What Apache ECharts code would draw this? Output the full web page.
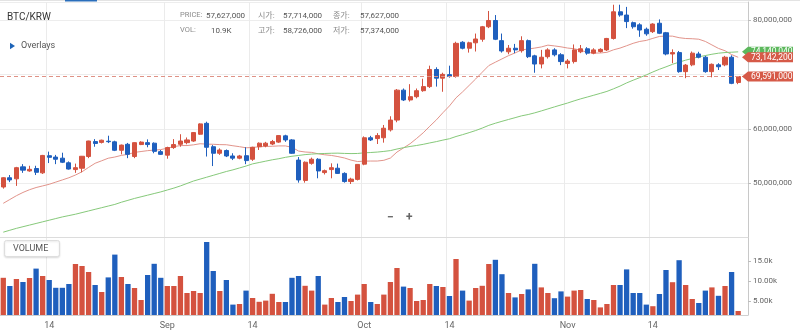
<!DOCTYPE html>
<html>
<head>
<meta charset="utf-8">
<script src="https://cdn.jsdelivr.net/npm/echarts@6/dist/echarts.min.js"></script>
<style>
  html, body { margin: 0; padding: 0; background: #fff; }
  #chart { width: 800px; height: 335px; }
</style>
</head>
<body>
<div id="chart"></div>
<script>
// ---- calendar (one trailing empty day leaves room before the price axis) ----
const firstDay = '2021-08-07';
const dayCount = 114;
const monthNames = ['Jan','Feb','Mar','Apr','May','Jun','Jul','Aug','Sep','Oct','Nov','Dec'];

// ---- daily candles, prices in millions of KRW ----
const openM = [49.3,51.0,50.8,53.0,52.25,52.7,51.9,55.05,54.8,54.6,
  53.75,52.5,52.75,54.9,57.65,57.5,57.714,57.6,56.05,57.15,
  54.9,57.1,57.45,57.35,55.8,55.15,56.55,57.15,57.45,57.75,
  59.0,61.0,56.7,55.5,56.0,55.0,54.6,55.05,54.4,56.7,
  56.85,57.2,57.55,58.7,57.95,54.25,50.5,53.65,54.4,51.95,
  52.5,52.75,51.8,50.3,50.7,53.5,58.35,58.2,58.35,59.8,
  61.6,67.1,65.3,65.9,67.0,67.75,70.9,69.3,69.95,69.6,
  75.9,74.8,75.8,76.45,78.75,79.9,76.2,74.15,74.8,74.35,
  76.2,73.4,71.9,73.25,74.5,73.6,72.0,72.35,74.15,74.7,
  73.9,74.2,74.5,76.6,81.5,80.9,79.5,79.1,78.3,77.85,
  79.4,77.65,73.75,74.0,70.5,71.75,73.75,73.15,70.5,71.75,
  71.75,73.15,68.5];
const highM = [51.1,51.5,53.0,53.5,53.2,53.2,55.2,55.8,55.2,55.6,
  54.0,53.6,55.0,57.8,58.1,58.0,58.726,57.8,57.1,57.4,
  57.5,57.7,58.05,57.5,56.1,56.7,58.1,59.0,58.4,59.4,
  61.0,61.3,57.0,56.4,56.2,55.5,55.2,56.6,56.7,57.5,
  57.6,57.95,58.8,58.9,58.1,54.8,54.0,54.7,54.6,52.5,
  53.65,53.6,52.0,51.0,53.5,58.6,58.7,59.2,60.7,62.3,
  67.3,67.4,68.2,67.4,69.2,71.6,71.3,70.3,71.6,76.0,
  76.1,76.0,77.5,78.9,81.65,80.9,77.5,75.4,75.6,77.0,
  76.4,73.6,74.5,74.8,74.8,73.9,72.8,75.5,75.4,75.0,
  74.8,74.8,76.7,82.8,82.8,82.4,79.7,79.4,78.6,79.4,
  80.1,77.8,74.6,74.3,71.9,74.2,74.15,73.4,72.0,72.05,
  73.4,73.5,69.7];
const lowM = [49.0,50.2,49.5,51.9,52.1,51.5,51.7,53.7,53.5,53.7,
  52.5,51.9,52.0,54.6,56.7,57.3,57.374,55.9,55.3,54.6,
  54.6,57.0,56.6,55.5,55.2,54.5,56.3,56.7,57.15,57.6,
  58.9,54.9,53.15,55.2,54.8,54.25,54.4,53.5,54.1,56.1,
  56.6,57.0,57.4,57.6,55.4,50.1,50.1,53.4,50.9,51.6,
  50.9,51.7,50.1,49.85,50.5,53.3,57.75,57.2,57.45,59.5,
  61.2,65.1,65.0,65.6,66.8,67.5,67.75,66.8,69.4,69.4,
  74.6,74.0,74.2,76.0,78.5,76.3,74.0,73.7,73.9,74.0,
  73.0,70.3,71.1,72.9,73.3,71.7,71.1,72.0,73.9,73.6,
  73.7,74.0,74.3,76.4,80.6,78.5,78.4,76.9,77.1,77.6,
  77.4,73.5,72.05,70.3,69.3,71.5,72.95,70.3,69.45,70.8,
  71.5,68.2,68.2];
const closeM = [51.0,50.6,52.85,52.4,52.55,52.0,55.1,54.75,54.4,53.85,
  52.6,52.85,54.95,57.75,57.3,57.9,57.627,56.05,57.0,55.3,
  57.45,57.55,57.1,55.85,55.3,56.55,57.1,57.75,57.95,59.3,
  60.9,56.6,55.5,56.1,55.0,54.6,55.0,54.15,56.6,57.35,
  57.35,57.65,58.75,57.95,55.5,50.6,53.85,54.4,52.25,52.3,
  52.85,51.8,50.3,50.75,53.45,58.35,57.95,58.75,60.1,61.6,
  67.1,65.3,65.9,67.0,67.75,70.9,69.3,70.0,69.6,75.7,
  74.8,75.8,76.5,78.75,79.9,76.45,74.3,74.8,74.5,76.2,
  73.25,71.9,73.15,74.5,73.6,72.35,72.45,74.5,74.7,73.9,
  74.5,74.6,76.6,81.5,80.9,79.7,78.75,78.15,77.45,79.25,
  77.55,73.75,74.0,70.5,71.7,73.9,73.15,70.5,71.85,71.4,
  73.15,68.35,69.591];

// ---- daily traded volume, thousands of BTC ----
const volumeK = [10.8,8.75,10.5,9.75,10.75,13.1,11.25,10.25,8.3,8.3,
  9.25,14.25,13.75,12.25,9.0,7.25,10.9,16.6,11.0,9.25,
  8.25,5.25,11.5,14.3,10.8,8.75,8.75,11.25,7.0,7.5,
  7.0,19.75,12.5,7.5,10.25,4.1,4.25,7.6,5.75,4.8,
  5.1,6.8,4.75,4.75,10.8,11.25,8.8,7.6,11.25,4.1,
  5.75,4.75,6.0,5.0,6.6,9.25,4.75,4.25,6.6,9.75,
  13.25,8.6,8.25,5.0,5.25,9.25,8.75,8.5,6.25,15.5,
  7.6,5.1,8.25,8.8,14.25,15.3,11.7,7.0,5.9,6.75,
  7.9,14.3,8.4,7.0,5.7,7.4,6.1,7.6,7.75,5.5,
  5.25,3.4,4.25,9.0,9.0,12.9,7.0,7.0,4.1,3.7,
  6.75,12.75,9.7,15.2,9.0,5.5,4.5,7.6,8.4,6.3,
  8.75,12.25,2.5];

// ---- overlay averages (15-day and 50-day), millions of KRW ----
const ma15M = [46.3,47.0,47.7,48.3,48.8,49.2,49.5,49.8,50.2,50.6,
  51.0,51.5,52.1,52.9,53.66,54.12,54.59,54.81,55.11,55.30,
  55.66,55.82,55.98,56.08,56.17,56.44,56.72,56.91,56.92,57.05,
  57.25,57.18,57.15,57.09,57.07,56.88,56.71,56.51,56.56,56.70,
  56.75,56.79,56.85,56.85,56.60,55.91,55.73,55.66,55.40,55.22,
  55.10,54.89,54.63,54.24,53.98,54.05,54.07,54.07,54.21,54.62,
  55.72,56.48,57.25,58.23,59.26,60.47,61.63,62.95,64.20,65.69,
  66.78,67.97,69.16,70.40,71.62,72.24,72.84,73.44,73.94,74.50,
  74.66,74.83,75.04,75.37,75.23,75.06,74.84,74.71,74.44,74.04,
  73.91,73.93,74.05,74.51,74.83,75.26,75.71,76.05,76.24,76.62,
  76.97,77.05,77.02,76.74,76.59,76.55,76.46,76.05,75.41,74.77,
  74.34,73.64,73.1422];
const ma50M = [41.0,41.35,41.7,42.0,42.3,42.6,42.9,43.2,43.5,43.8,
  44.05,44.3,44.6,44.9,45.2,45.5,45.8,46.1,46.5,46.85,
  47.2,47.5,47.8,48.1,48.4,48.75,49.1,49.5,49.95,50.4,
  50.75,51.1,51.45,51.8,52.15,52.45,52.8,53.15,53.55,53.8,
  54.05,54.3,54.5,54.75,54.95,55.1,55.25,55.35,55.42,55.46,
  55.50,55.52,55.47,55.44,55.46,55.58,55.64,55.72,55.84,55.99,
  56.28,56.53,56.75,56.93,57.14,57.40,57.64,57.92,58.17,58.58,
  58.92,59.29,59.68,60.13,60.63,61.02,61.37,61.71,62.04,62.38,
  62.62,62.93,63.28,63.65,64.02,64.38,64.73,65.13,65.50,65.83,
  66.17,66.51,66.87,67.34,67.85,68.43,68.93,69.40,69.90,70.44,
  70.94,71.38,71.85,72.25,72.61,72.92,73.23,73.46,73.70,73.89,
  74.01,74.07,74.14004];

// ---- axis labels ----
const priceTickLabels = [50, 60, 80];           // millions shown on the price axis
const volumeTicks = [5000, 10000, 15000];
const volumeTickText = ['5.00k', '10.00k', '15.0k'];
const infoIndex = 16;                            // candle shown in the header readout

// ---- helpers ----
const FONT = 'Roboto, "Noto Sans CJK KR", sans-serif';
const UP = '#d4523f', DOWN = '#1f5fbd';
const toKRW = v => Math.round(v * 1e6);
const fmt = v => toKRW(v).toLocaleString('en-US');

const dates = [];
const t0 = new Date(firstDay + 'T00:00:00Z').getTime();
for (let i = 0; i < dayCount; i++) dates.push(new Date(t0 + i * 86400000).toISOString().slice(0, 10));
const dayOf = s => +s.slice(8, 10);
const isMark = (i, s) => dayOf(s) === 1 || dayOf(s) === 14;
const dateLabel = s => dayOf(s) === 1 ? monthNames[+s.slice(5, 7) - 1] : String(dayOf(s));

const candles = openM.map((o, i) => [toKRW(o), toKRW(closeM[i]), toKRW(lowM[i]), toKRW(highM[i])]);
const volumes = volumeK.map((v, i) => ({
  value: Math.round(v * 1000),
  itemStyle: { color: closeM[i] >= openM[i] ? UP : DOWN }
}));
const lastClose = closeM[closeM.length - 1];

const chart = echarts.init(document.getElementById('chart'), null, { renderer: 'canvas' });

const xBase = {
  type: 'category', data: dates, boundaryGap: true,
  axisTick: { show: false },
  splitLine: { show: true, interval: isMark, lineStyle: { color: '#ebebeb', width: 1 } }
};

chart.setOption({
  animation: false,
  backgroundColor: '#fff',
  textStyle: { fontFamily: FONT },
  grid: [
    { left: 0, top: 2, width: 748, height: 235.6, outerBoundsMode: 'none', containLabel: false },
    { left: 0, top: 237.6, width: 748, height: 77.4, outerBoundsMode: 'none', containLabel: false }
  ],
  xAxis: [
    Object.assign({}, xBase, {
      gridIndex: 0,
      axisLine: { show: true, lineStyle: { color: '#dcdcdc' } },
      axisLabel: { show: false }
    }),
    Object.assign({}, xBase, {
      gridIndex: 1,
      axisLine: { show: true, lineStyle: { color: '#d0d0d0' } },
      axisLabel: {
        show: true, interval: isMark, formatter: v => dateLabel(v),
        color: '#666', fontSize: 9, fontFamily: FONT, margin: 6
      }
    })
  ],
  yAxis: [
    {
      type: 'value', gridIndex: 0, position: 'right',
      min: 40e6, max: 83.3e6, interval: 10e6,
      axisLine: { show: true, lineStyle: { color: '#c8c8c8' } },
      axisTick: { show: true, length: 3, lineStyle: { color: '#bdbdbd' } },
      axisLabel: {
        color: '#666', fontSize: 8, fontFamily: FONT, margin: 5,
        showMinLabel: false, showMaxLabel: false,
        formatter: v => priceTickLabels.includes(Math.round(v / 1e6)) && v % 1e6 === 0 ? v.toLocaleString('en-US') : ''
      },
      splitLine: { show: true, lineStyle: { color: '#ededed' } }
    },
    {
      type: 'value', gridIndex: 1, position: 'right',
      min: 1500, max: 20850,
      axisLine: { show: true, lineStyle: { color: '#c8c8c8' } },
      axisTick: { show: true, length: 3, customValues: volumeTicks, lineStyle: { color: '#bdbdbd' } },
      axisLabel: {
        color: '#666', fontSize: 8, fontFamily: FONT, margin: 5,
        customValues: volumeTicks,
        formatter: v => { const k = volumeTicks.indexOf(v); return k >= 0 ? volumeTickText[k] : ''; }
      },
      splitLine: { show: false }
    }
  ],
  series: [
    {
      name: 'MA15', type: 'line', xAxisIndex: 0, yAxisIndex: 0,
      data: ma15M.map(toKRW), symbol: 'none', showSymbol: false, silent: true,
      lineStyle: { color: '#e2948b', width: 1 }, z: 1
    },
    {
      name: 'MA50', type: 'line', xAxisIndex: 0, yAxisIndex: 0,
      data: ma50M.map(toKRW), symbol: 'none', showSymbol: false, silent: true,
      lineStyle: { color: '#86c97a', width: 1 }, z: 1
    },
    {
      name: 'BTC/KRW', type: 'candlestick', xAxisIndex: 0, yAxisIndex: 0,
      data: candles, barWidth: 4.6, z: 3,
      itemStyle: { color: UP, color0: DOWN, borderColor: UP, borderColor0: DOWN, borderWidth: 1 },
      markLine: {
        silent: true, symbol: ['none', 'none'], label: { show: false },
        lineStyle: { type: [4, 3], color: '#df9286', width: 1 },
        data: [{ yAxis: toKRW(lastClose) }]
      }
    },
    {
      name: 'VOLUME', type: 'bar', xAxisIndex: 1, yAxisIndex: 1,
      data: volumes, barWidth: 5.3
    }
  ]
});

// ---- header, pane captions and right-edge value tags ----
const txt = (text, x, y, size, color, extra) => Object.assign({
  type: 'text', x: x, y: y, z: 100, silent: true,
  style: { text: text, fill: color, font: size + 'px ' + FONT, verticalAlign: 'middle' }
}, extra || {});

const info = i => [
  txt('PRICE:', 180, 15.5, 7.5, '#8a8a8a'),
  txt(fmt(closeM[i]), 206, 15.5, 8, '#555'),
  txt('시가:', 258, 15.5, 8, '#8a8a8a'),
  txt(fmt(openM[i]), 283, 15.5, 8, '#555'),
  txt('종가:', 333, 15.5, 8, '#8a8a8a'),
  txt(fmt(closeM[i]), 360, 15.5, 8, '#555'),
  txt('VOL:', 180, 30.5, 7.5, '#8a8a8a'),
  txt(volumeK[i].toFixed(1) + 'K', 211, 30.5, 8, '#555'),
  txt('고가:', 258, 30.5, 8, '#8a8a8a'),
  txt(fmt(highM[i]), 283, 30.5, 8, '#555'),
  txt('저가:', 333, 30.5, 8, '#8a8a8a'),
  txt(fmt(lowM[i]), 360, 30.5, 8, '#555')
];

const tag = (valueM, color) => {
  const y = chart.convertToPixel({ yAxisIndex: 0 }, toKRW(valueM));
  return [
    {
      type: 'polygon', z: 100, silent: true,
      shape: { points: [[742, y], [748, y - 5], [793, y - 5], [793, y + 5], [748, y + 5]] },
      style: { fill: color }
    },
    txt(fmt(valueM), 751, y + 0.3, 8.5, '#fff')
  ];
};

const elements = [
  { type: 'rect', z: 100, silent: true, shape: { x: 0, y: 0, width: 800, height: 1 }, style: { fill: '#e3e3e3' } },
  { type: 'rect', z: 100, silent: true, shape: { x: 65, y: 0, width: 32, height: 1.5 }, style: { fill: '#2a6ebb' } },
  txt('BTC/KRW', 7, 17.5, 10, '#333'),
  { type: 'polygon', z: 100, silent: true, shape: { points: [[10, 42.8], [15, 46], [10, 49.2]] }, style: { fill: '#1e64b8' } },
  txt('Overlays', 21, 46, 9, '#555'),
  ...info(infoIndex),
  { type: 'rect', z: 100, silent: true, shape: { x: 4.5, y: 240.5, width: 55, height: 16, r: 2 },
    style: { fill: '#fff', stroke: '#dedede', lineWidth: 1, shadowBlur: 2, shadowColor: 'rgba(0,0,0,0.12)', shadowOffsetY: 1 } },
  txt('VOLUME', 13, 248.5, 9, '#555'),
  txt('−', 387, 218, 12, '#666', { style: { text: '−', fill: '#666', font: 'bold 12px ' + FONT, verticalAlign: 'middle' } }),
  txt('+', 406, 218, 12, '#666', { style: { text: '+', fill: '#666', font: 'bold 12px ' + FONT, verticalAlign: 'middle' } }),
  ...tag(ma50M[ma50M.length - 1], '#5cb85c'),
  ...tag(ma15M[ma15M.length - 1], '#d65a48'),
  ...tag(lastClose, '#d65a48')
];

chart.setOption({ graphic: elements });
</script>
</body>
</html>
